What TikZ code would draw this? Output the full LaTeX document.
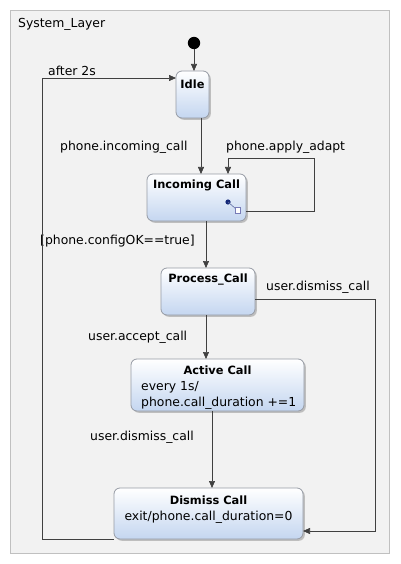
\documentclass[tikz,border=0pt]{standalone}
\usepackage{fontspec}
\setmainfont{DejaVu Sans}
\usetikzlibrary{shadows,arrows.meta}
\definecolor{frameline}{RGB}{192,192,192}
\definecolor{framefill}{RGB}{242,242,242}
\definecolor{stateline}{RGB}{150,155,165}
\definecolor{statebot}{RGB}{196,214,240}
\definecolor{wire}{RGB}{64,64,64}
\definecolor{icondot}{RGB}{20,40,120}
\begin{document}
\begin{tikzpicture}[x=1pt,y=-1pt,
  state/.style={draw=stateline, line width=0.8pt, rounded corners=6pt, top color=white, bottom color=statebot,
    drop shadow={shadow xshift=1.8pt, shadow yshift=-1.8pt, fill=black!45, opacity=0.5},
    inner sep=0pt, outer sep=0pt},
  title/.style={font=\fontsize{11.4}{13}\selectfont\bfseries, inner sep=0pt, text=black},
  body/.style={font=\fontsize{12.4}{14}\selectfont, inner sep=0pt, text=black},
  lbl/.style={font=\fontsize{12.4}{14}\selectfont, inner sep=0pt, anchor=west, text=black},
  arr/.style={draw=wire, line width=0.7pt, -{Triangle[length=7pt,width=6pt]}},
  ln/.style={draw=wire, line width=0.7pt}]
\useasboundingbox (0,0) rectangle (400,564);
\fill[white] (0,0) rectangle (400,564);
\draw[fill=framefill, draw=frameline, line width=0.8pt] (10,10) rectangle (389,553);
\node[lbl] (sys) at (18,24) {System\_Layer};

% states
\node[state, minimum width=33pt, minimum height=47pt] (idle) at (192.5,94.5) {};
\node[title] (idlet) at (192.5,84) {Idle};

\node[state, minimum width=99pt, minimum height=47pt] (inc) at (196.5,197.5) {};
\node[title] (inct) at (196.5,185) {Incoming Call};
\coordinate (icd) at (228,202);
\fill[icondot] (icd) circle (2.6pt);
\draw[icondot!70, line width=0.6pt] (icd) -- (236,209);
\node[draw=stateline!80!blue, fill=white, minimum size=5.5pt, inner sep=0pt, line width=0.5pt] (icsq) at (237.5,210) {};

\node[state, minimum width=94pt, minimum height=47pt] (proc) at (208,291.5) {};
\node[title] (proct) at (208,280) {Process\_Call};

\node[state, minimum width=173pt, minimum height=52pt] (act) at (217.5,385) {};
\node[title] (actt) at (217.5,370) {Active Call};
\node[body, anchor=west] (act1) at (141,387) {every 1s/};
\node[body, anchor=west] (act2) at (141,403) {phone.call\_duration +=1};

\node[state, minimum width=189pt, minimum height=51pt] (dis) at (208.5,513.5) {};
\node[title] (dist) at (208.5,500) {Dismiss Call};
\node[body] (dis1) at (208.5,517) {exit/phone.call\_duration=0};

% initial
\fill[black] (194,43) circle (6.2pt);
\coordinate (init) at (194,49);

% transitions
\draw[arr] (init) -- (init |- idle.north);
\draw[arr] (idle.south -| 201,0) -- (inc.north -| 201,0);
\node[lbl] (l1) at (60,147) {phone.incoming\_call};

\draw[arr] (inc.east |- 0,211) -- (314,211) -- (314,158) -- (228,158) -- (inc.north -| 228,0);
\node[lbl] (l2) at (226,147) {phone.apply\_adapt};

\draw[arr] (inc.south -| 206,0) -- (proc.north -| 206,0);
\node[lbl] (l3) at (40,241) {[phone.configOK==true]};

\draw[arr] (proc.east |- 0,299) -- (375,299) -- (375,531) -- (dis.east |- 0,531);
\node[lbl] (l4) at (266,287) {user.dismiss\_call};

\draw[arr] (proc.south -| 206,0) -- (act.north -| 206,0);
\node[lbl] (l5) at (88,337) {user.accept\_call};

\draw[arr] (act.south -| 212,0) -- (dis.north -| 212,0);
\node[lbl] (l6) at (90,437) {user.dismiss\_call};

\draw[arr] (dis.west |- 0,539) -- (42,539) -- (42,78) -- (idle.west |- 0,78);
\node[lbl] (l7) at (48,71) {after 2s};
\end{tikzpicture}
\end{document}
